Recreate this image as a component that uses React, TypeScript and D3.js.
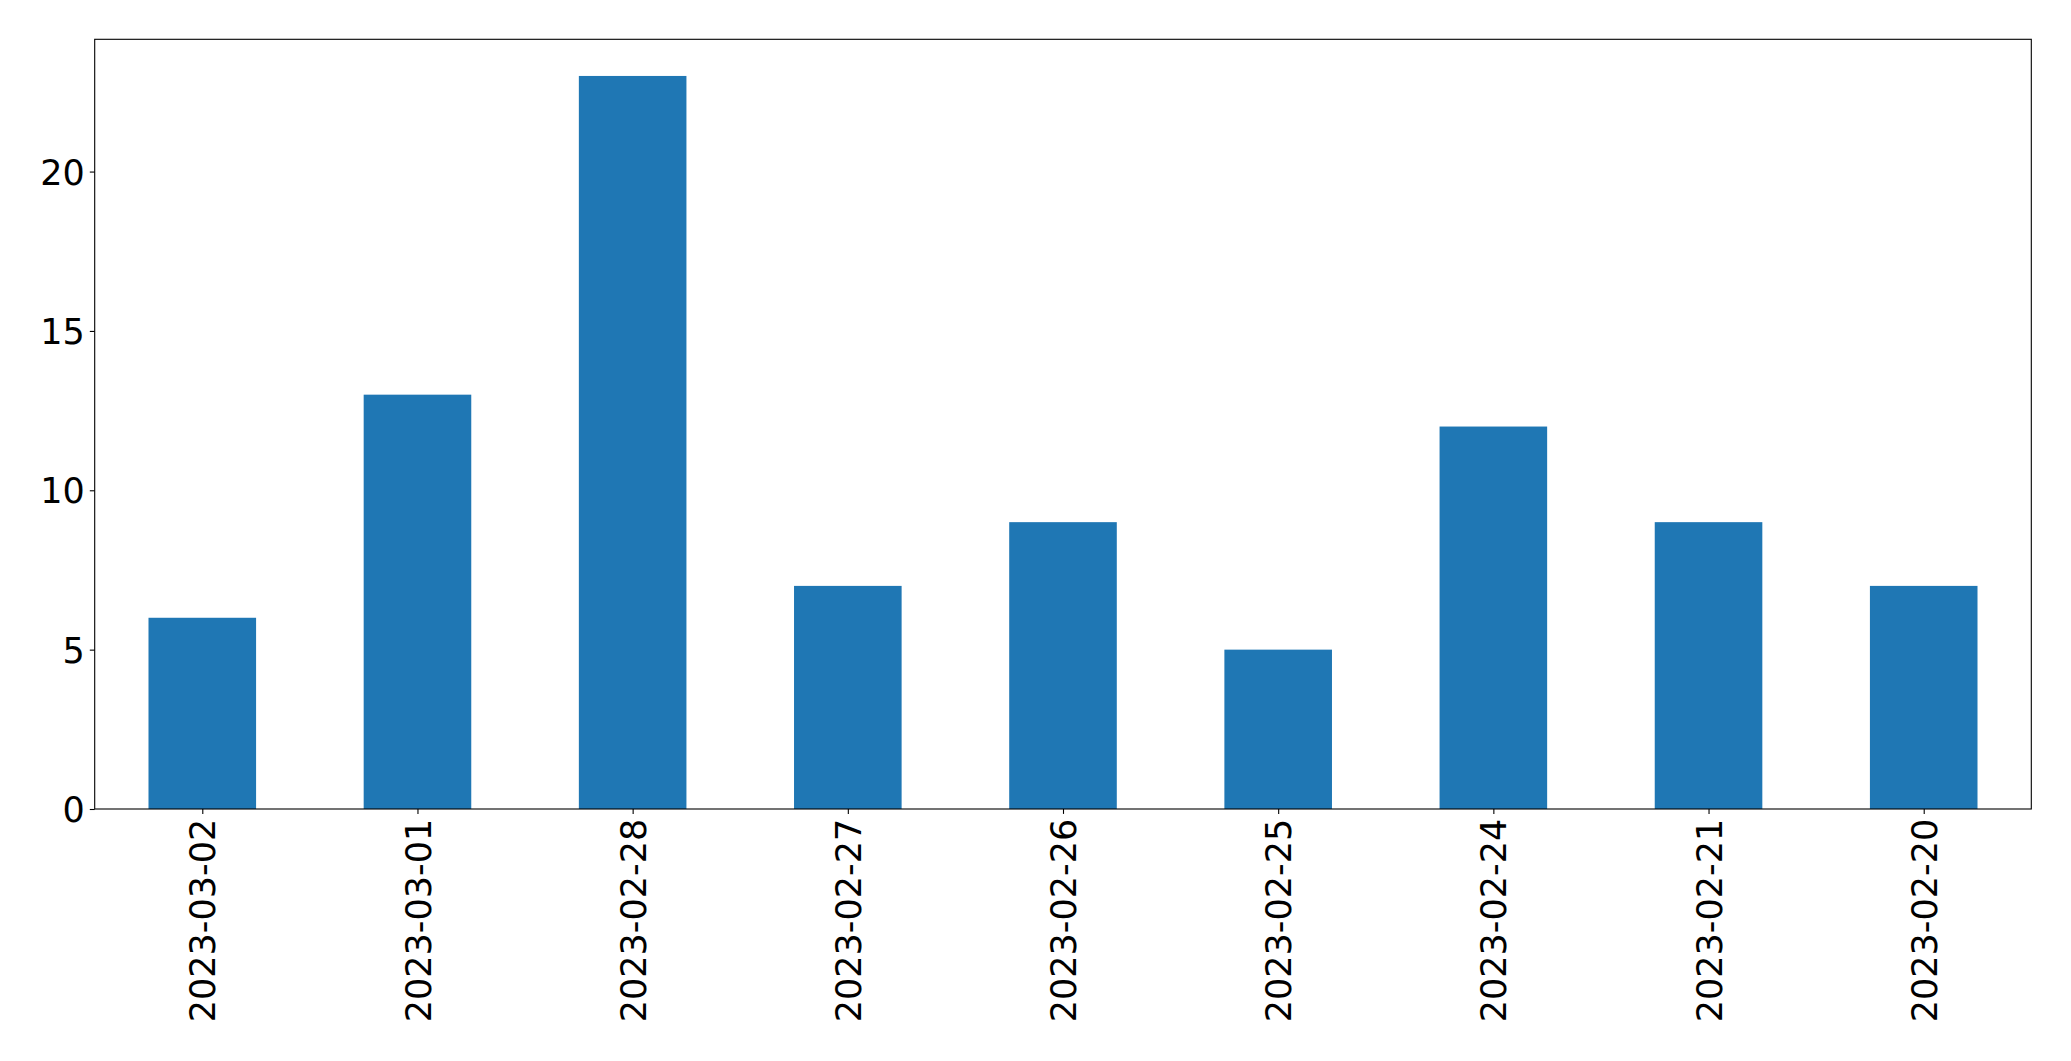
import React, { useEffect, useRef } from 'react';
import * as d3 from 'd3';

const dates = [
  '2023-03-02', '2023-03-01', '2023-02-28', '2023-02-27', '2023-02-26',
  '2023-02-25', '2023-02-24', '2023-02-21', '2023-02-20',
];
const counts = [6, 13, 23, 7, 9, 5, 12, 9, 7];
const yTicks = [0, 5, 10, 15, 20];

const W = 2071;
const H = 1061;

const App: React.FC = () => {
  const ref = useRef<SVGSVGElement | null>(null);

  useEffect(() => {
    if (!ref.current) return;
    const svg = d3.select(ref.current);
    svg.selectAll('*').remove();

    const margin = { top: 39.3, right: W - 2031.3, bottom: H - 809, left: 94.7 };
    const width = W - margin.left - margin.right;
    const height = H - margin.top - margin.bottom;

    // matplotlib-style bar layout: positions 0..n-1, xlim -0.5..n-0.5, width 0.5
    const x = d3.scaleLinear().domain([-0.5, dates.length - 0.5]).range([0, width]);
    const y = d3.scaleLinear().domain([0, d3.max(counts)! * 1.05]).range([height, 0]);

    const g = svg.append('g').attr('transform', `translate(${margin.left},${margin.top})`);

    g.selectAll('rect.bar')
      .data(counts)
      .enter()
      .append('rect')
      .attr('class', 'bar')
      .attr('x', (_, i) => x(i - 0.25))
      .attr('width', x(0.25) - x(-0.25))
      .attr('y', d => y(d))
      .attr('height', d => y(0) - y(d))
      .attr('fill', '#1f77b4');

    const tickLen = 4.9;
    const pad = 4.9;
    const font = 'DejaVu Sans, sans-serif';
    const fontSize = 35;

    // y axis
    const yAxis = g.append('g')
      .call(d3.axisLeft(y).tickValues(yTicks).tickSize(tickLen).tickPadding(pad).tickFormat(d3.format('d')));
    yAxis.select('.domain').remove();
    yAxis.selectAll('line').attr('stroke', '#000').attr('stroke-width', 1.1);
    yAxis.selectAll('text')
      .attr('font-family', font)
      .attr('font-size', fontSize)
      .attr('fill', '#000')
      .attr('dy', '0.36em');
    yAxis.attr('font-family', null).attr('font-size', null);

    // x axis
    const xAxis = g.append('g')
      .attr('transform', `translate(0,${height})`)
      .call(d3.axisBottom(x).tickValues(d3.range(dates.length)).tickSize(tickLen).tickPadding(pad)
        .tickFormat(d => dates[d as number]));
    xAxis.select('.domain').remove();
    xAxis.selectAll('line').attr('stroke', '#000').attr('stroke-width', 1.1);
    xAxis.selectAll('text')
      .attr('font-family', font)
      .attr('font-size', fontSize)
      .attr('fill', '#000')
      .attr('transform', 'rotate(-90)')
      .attr('text-anchor', 'end')
      .attr('x', -(tickLen + pad))
      .attr('y', 0)
      .attr('dy', '0.36em');
    xAxis.attr('font-family', null).attr('font-size', null);

    // frame
    g.append('rect')
      .attr('x', 0)
      .attr('y', 0)
      .attr('width', width)
      .attr('height', height)
      .attr('fill', 'none')
      .attr('stroke', '#000')
      .attr('stroke-width', 1.1);
  }, []);

  return (
    <svg
      ref={ref}
      width={W}
      height={H}
      style={{ position: 'absolute', left: 0, top: 0, background: '#fff' }}
    />
  );
};

export default App;
